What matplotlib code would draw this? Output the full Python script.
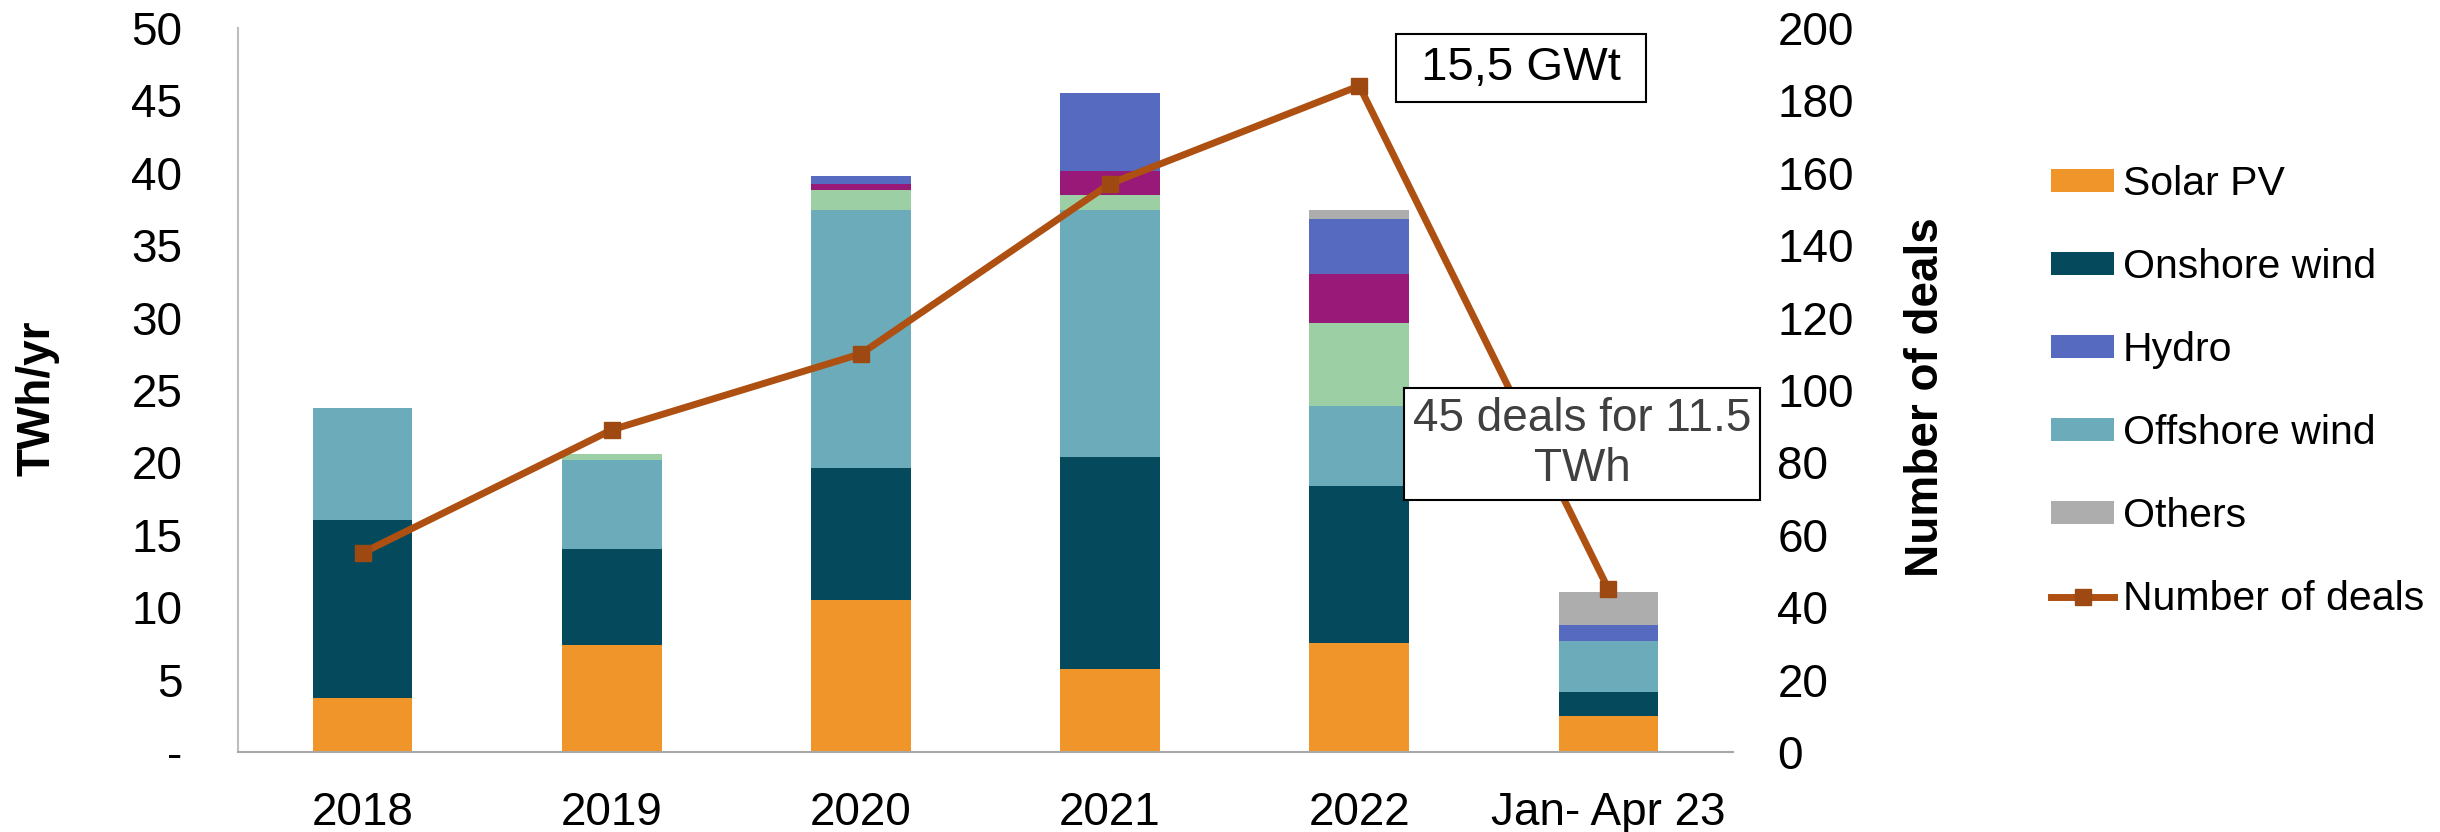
import matplotlib
matplotlib.use("Agg")
import matplotlib.pyplot as plt
import numpy as np

plt.rcParams['font.family'] = ['Liberation Sans', 'DejaVu Sans']

# Data
periods = ['2018', '2019', '2020', '2021', '2022', 'Jan- Apr 23']
solar_pv = [3.7, 7.4, 10.5, 5.7, 7.5, 2.5]
onshore_wind = [12.3, 6.6, 9.1, 14.7, 10.9, 1.65]
offshore_wind = [7.75, 6.2, 17.85, 17.0, 5.5, 3.55]
green_other = [0, 0.4, 1.35, 1.05, 5.7, 0]      # unlabelled segment
purple_other = [0, 0, 0.4, 1.65, 3.4, 0]        # unlabelled segment
hydro = [0, 0, 0.6, 5.4, 3.8, 1.05]
others = [0, 0, 0, 0, 0.6, 2.3]
deals = [55, 89, 110, 157, 184, 45]

left_ticks = [0, 5, 10, 15, 20, 25, 30, 35, 40, 45, 50]
left_ticklabels = ['-', '5', '10', '15', '20', '25', '30', '35', '40', '45', '50']
right_ticks = list(range(0, 201, 20))

# (values, colour, legend label) from bottom to top of the stack
stack = [
    (solar_pv, '#F0952A', 'Solar PV'),
    (onshore_wind, '#044A5C', 'Onshore wind'),
    (offshore_wind, '#6CABBA', 'Offshore wind'),
    (green_other, '#9CCFA3', None),
    (purple_other, '#991978', None),
    (hydro, '#566BC0', 'Hydro'),
    (others, '#ADADAD', 'Others'),
]

W, H = 2440, 832
fig = plt.figure(figsize=(W / 100, H / 100), dpi=100)
ax = fig.add_axes([238 / W, 1 - 752 / H, (1733 - 238) / W, (752 - 28) / H])

x = np.arange(len(periods))
bottom = np.zeros(len(periods))
handles = {}
for vals, color, label in stack:
    bars = ax.bar(x, vals, width=0.4, bottom=bottom, color=color, edgecolor='none', zorder=2)
    bottom += np.array(vals)
    if label:
        handles[label] = bars

ax.set_xlim(-0.5, len(periods) - 0.5)
ax.set_ylim(0, 50)
ax.set_yticks(left_ticks)
ax.set_yticklabels(left_ticklabels)
ax.set_xticks(x)
ax.set_xticklabels(periods)
ax.tick_params(axis='y', length=0, pad=40, labelsize=33)
ax.tick_params(axis='x', length=0, pad=28, labelsize=33)
for s in ['top', 'right']:
    ax.spines[s].set_visible(False)
ax.spines['left'].set_color('#BDBDBD')
ax.spines['bottom'].set_color('#A8A8A8')
ax.spines['left'].set_linewidth(1.5)
ax.spines['bottom'].set_linewidth(1.5)

ax2 = ax.twinx()
line, = ax2.plot(x, deals, color='#AE5012', lw=5, marker='s', markersize=12,
                 markerfacecolor='#9E4812', markeredgecolor='#9E4812', zorder=3,
                 label='Number of deals')
ax2.set_ylim(0, 200)
ax2.set_yticks(right_ticks)
ax2.tick_params(axis='y', length=0, pad=32, labelsize=33)
for s in ax2.spines.values():
    s.set_visible(False)

fig.text(37 / W, 1 - 398 / H, 'TWh/yr', rotation=90, ha='center', va='center',
         fontsize=33, fontweight='bold')
fig.text(1926 / W, 1 - 397 / H, 'Number of deals', rotation=90, ha='center', va='center',
         fontsize=33, fontweight='bold')

fig.text(1521 / W, 1 - 68 / H, ' 15,5 GWt ', ha='center', va='center', fontsize=34,
         color='black', zorder=10,
         bbox=dict(boxstyle='square,pad=0.25', facecolor='white', edgecolor='black', linewidth=1.5))
fig.text(1582 / W, 1 - 444 / H, '45 deals for 11.5\nTWh', ha='center', va='center',
         fontsize=33, color='#404040', linespacing=1.15, zorder=10,
         bbox=dict(boxstyle='square,pad=0.2', facecolor='white', edgecolor='black', linewidth=1.5))

order = ['Solar PV', 'Onshore wind', 'Hydro', 'Offshore wind', 'Others']
fig.legend([handles[k] for k in order] + [line], order + ['Number of deals'],
           loc='upper left', bbox_to_anchor=(2014 / W, 1 - 128 / H), frameon=False,
           fontsize=29.5, handlelength=1.55, handleheight=0.5, handletextpad=0.2,
           labelspacing=1.1, borderpad=0.4)

fig.savefig('out.png', dpi=100, facecolor='white')
